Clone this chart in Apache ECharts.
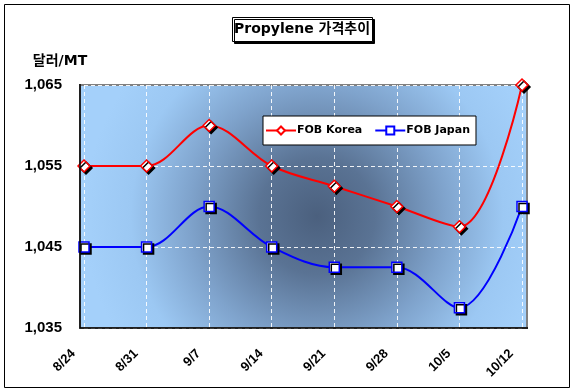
<!DOCTYPE html>
<html>
<head>
<meta charset="utf-8">
<script src="https://cdn.jsdelivr.net/npm/echarts@6/dist/echarts.min.js"></script>
<style>html,body{margin:0;padding:0;background:#fff}#c{width:574px;height:392px}</style>
</head>
<body>
<div id="c"></div>
<script>
const categories = ['8/24', '8/31', '9/7', '9/14', '9/21', '9/28', '10/5', '10/12'];
const fobKorea = [1055, 1055, 1060, 1055, 1052.5, 1050, 1047.5, 1065];
const fobJapan = [1045, 1045, 1050, 1045, 1042.5, 1042.5, 1037.5, 1050];
const yTickLabels = ['1,035', '1,045', '1,055', '1,065'];
const yMin = 1035, yMax = 1065, yStep = 10;

const W = 574, H = 392;
const GRID = { left: 84, right: 52, top: 85, bottom: 64 };
const PAD_L = 4, PAD_R = 5;
const plotX = GRID.left - PAD_L, plotY = GRID.top;
const plotW = (W - GRID.right + PAD_R) - plotX, plotH = H - GRID.bottom - GRID.top;

const FONT = '"Liberation Sans", Arial, "Noto Sans CJK KR", sans-serif';
const FONT_WIDE = '"DejaVu Sans", "Noto Sans CJK KR", sans-serif';

const chart = echarts.init(document.getElementById('c'), null, { renderer: 'canvas' });
chart.setOption({
  backgroundColor: '#ffffff',
  animation: false,
  title: {
    text: 'Propylene 가격추이',
    left: 232, top: 17,
    padding: [5, 3, 6, 2],
    backgroundColor: '#ffffff',
    borderColor: '#000000', borderWidth: 1,
    shadowColor: '#000000', shadowOffsetX: 2, shadowOffsetY: 2, shadowBlur: 0,
    textStyle: { fontFamily: FONT_WIDE, fontSize: 14, fontWeight: 'bold', color: '#000' }
  },
  legend: {
    left: 263, top: 116,
    padding: [9, 6, 9, 2],
    itemGap: 12,
    itemWidth: 30, itemHeight: 10,
    backgroundColor: '#ffffff',
    borderColor: '#000000', borderWidth: 1,
    textStyle: { fontFamily: FONT_WIDE, fontSize: 11, fontWeight: 'bold', color: '#000', padding: [0, 0, 0, -4] },
    data: ['FOB Korea', 'FOB Japan']
  },
  grid: { left: GRID.left, right: GRID.right, top: GRID.top, bottom: GRID.bottom, containLabel: false },
  graphic: [
    {
      type: 'rect', z: -10, silent: true,
      shape: { x: 4.5, y: 4.5, width: 565, height: 383 },
      style: { fill: 'none', stroke: '#000', lineWidth: 1 }
    },
    {
      type: 'rect', z: -5, silent: true,
      shape: { x: plotX, y: plotY, width: plotW, height: plotH },
      style: {
        fill: new echarts.graphic.RadialGradient(0.53, 0.54, 0.95, [
          { offset: 0, color: '#4b607e' },
          { offset: 0.25, color: '#5a7394' },
          { offset: 0.55, color: '#7fa3cc' },
          { offset: 0.8, color: '#9cc8f3' },
          { offset: 1, color: '#a4d0fa' }
        ]),
        stroke: '#808080', lineWidth: 2
      }
    },
    {
      type: 'polyline', z: 50, silent: true,
      shape: { points: [[plotX, plotY - 1], [plotX, plotY + plotH], [plotX + plotW + 1, plotY + plotH]] },
      style: { stroke: '#000', lineWidth: 1.5, fill: 'none' }
    }
  ],
  xAxis: {
    type: 'category',
    data: categories,
    boundaryGap: false,
    axisLine: { show: false },
    axisTick: { show: false },
    axisLabel: {
      rotate: 45, margin: 13, interval: 0,
      padding: [0, 15, 0, 0],
      fontFamily: FONT, fontSize: 13, fontWeight: 'bold', color: '#000'
    },
    splitLine: { show: true, interval: 0, lineStyle: { color: '#ffffff', type: [4, 3], width: 1, opacity: 0.9 } }
  },
  yAxis: {
    type: 'value',
    min: yMin, max: yMax, interval: yStep,
    name: '달러/MT',
    nameLocation: 'end',
    nameGap: 24,
    nameTextStyle: { fontFamily: FONT_WIDE, fontSize: 14, fontWeight: 'bold', color: '#000', align: 'center', verticalAlign: 'middle', padding: [0, 48, 0, 0] },
    axisLine: { show: false },
    axisTick: { show: false },
    axisLabel: {
      margin: 22,
      fontFamily: FONT, fontSize: 15, fontWeight: 'bold', color: '#000',
      formatter: function (v) { return yTickLabels[Math.round((v - yMin) / yStep)]; }
    },
    splitLine: { show: true, lineStyle: { color: '#ffffff', type: [4, 3], width: 1, opacity: 0.9 } }
  },
  series: [
    {
      name: 'FOB Korea', type: 'line', data: fobKorea,
      smooth: 0.35,
      symbol: 'diamond', symbolSize: 12,
      lineStyle: { color: '#ff0000', width: 2 },
      itemStyle: { color: '#ffffff', borderColor: '#ff0000', borderWidth: 1.5, shadowColor: '#000', shadowOffsetX: 2, shadowOffsetY: 2, shadowBlur: 0 }
    },
    {
      name: 'FOB Japan', type: 'line', data: fobJapan,
      smooth: 0.35,
      symbol: 'rect', symbolSize: 10,
      lineStyle: { color: '#0000ff', width: 2 },
      itemStyle: { color: '#ffffff', borderColor: '#0000ff', borderWidth: 1.5, shadowColor: '#000', shadowOffsetX: 2, shadowOffsetY: 2, shadowBlur: 0 }
    }
  ]
});
</script>
</body>
</html>
